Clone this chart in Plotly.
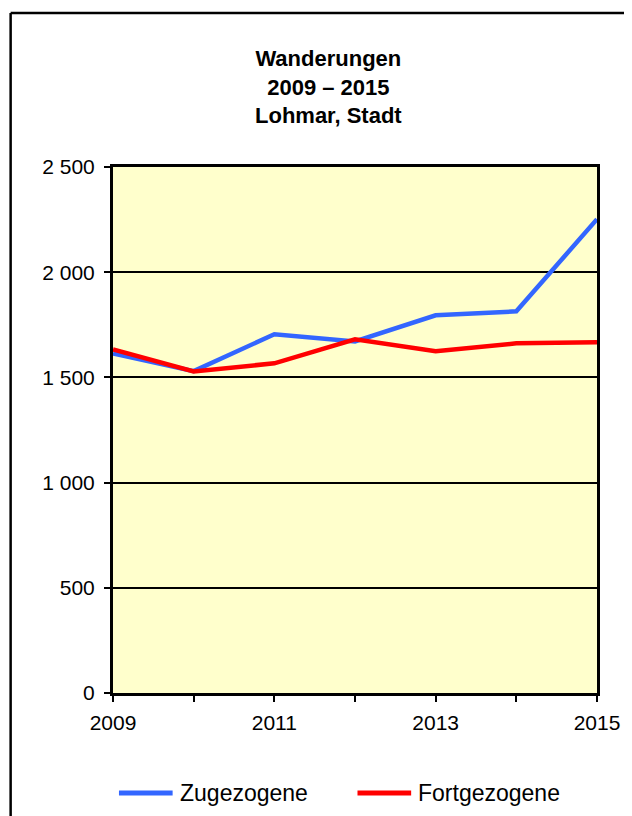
import plotly.graph_objects as go

years = [2009, 2010, 2011, 2012, 2013, 2014, 2015]
zugezogene = [1614, 1530, 1705, 1671, 1795, 1814, 2252]
fortgezogene = [1633, 1528, 1567, 1681, 1624, 1662, 1667]
x_ticktext = ["2009", "", "2011", "", "2013", "", "2015"]
y_tickvals = [0, 500, 1000, 1500, 2000, 2500]
y_ticktext = ["0", "500", "1 000", "1 500", "2 000", "2 500"]
series_names = ["Zugezogene", "Fortgezogene"]
series_colors = ["#3366FF", "#FF0000"]

FONT = "Liberation Sans, Arial, sans-serif"

# page body has an 8px margin, so figure coords = screen coords - 8
W, H = 624, 808
L, T = 105, 159
PW, PH = 487, 526
R, B = W - L - PW, H - T - PH


def px(x):
    return (x - L) / PW


def py(y):
    return (T + PH - y) / PH


fig = go.Figure()
for name, vals, col in zip(series_names, [zugezogene, fortgezogene], series_colors):
    fig.add_trace(go.Scatter(x=years, y=vals, mode="lines", name=name,
                             line=dict(color=col, width=4.5), showlegend=False))

# outer chart frame (top and left edges visible; right/bottom lie outside the page)
shapes = [
    dict(type="line", xref="paper", yref="paper", x0=px(2), x1=px(W + 20),
         y0=py(5), y1=py(5), line=dict(color="black", width=2.5), layer="below"),
    dict(type="line", xref="paper", yref="paper", x0=px(2), x1=px(2),
         y0=py(5), y1=py(H + 20), line=dict(color="black", width=2.5), layer="below"),
]
annotations = [dict(text="<b>Wanderungen<br>2009 – 2015<br>Lohmar, Stadt</b>",
                    xref="paper", yref="paper", x=px(322), y=py(79),
                    xanchor="center", yanchor="middle", showarrow=False,
                    font=dict(size=22, family=FONT, color="black"), align="center")]

# manual legend
leg_y = 785
leg_items = [(111, 165, 170), (351, 405, 410)]
for (lx0, lx1, tx), name, col in zip(leg_items, series_names, series_colors):
    shapes.append(dict(type="line", xref="paper", yref="paper",
                       x0=px(lx0), x1=px(lx1), y0=py(leg_y), y1=py(leg_y),
                       line=dict(color=col, width=5)))
    annotations.append(dict(text=name, xref="paper", yref="paper",
                            x=px(tx), y=py(leg_y), xanchor="left", yanchor="middle",
                            showarrow=False,
                            font=dict(size=23, family=FONT, color="black")))

fig.update_layout(
    width=W, height=H,
    margin=dict(l=L, r=R, t=T, b=B, pad=0),
    paper_bgcolor="white",
    plot_bgcolor="#FFFFCC",
    font=dict(family=FONT, size=21, color="black"),
    showlegend=False,
    xaxis=dict(range=[2009, 2015], tickvals=years, ticktext=x_ticktext,
               showgrid=False, zeroline=False, ticks="outside", ticklen=6,
               tickwidth=2, tickcolor="black", showline=True, linecolor="black",
               linewidth=3, mirror=True, tickfont=dict(size=21, family=FONT),
               ticklabelstandoff=3),
    yaxis=dict(range=[0, 2500], tickvals=y_tickvals, ticktext=y_ticktext,
               showgrid=True, gridcolor="black", gridwidth=2, zeroline=False,
               ticks="outside", ticklen=6, tickwidth=2, tickcolor="black",
               showline=True, linecolor="black", linewidth=3, mirror=True,
               tickfont=dict(size=21, family=FONT), ticklabelstandoff=5),
    shapes=shapes,
    annotations=annotations,
)

fig.write_html("out.html")
